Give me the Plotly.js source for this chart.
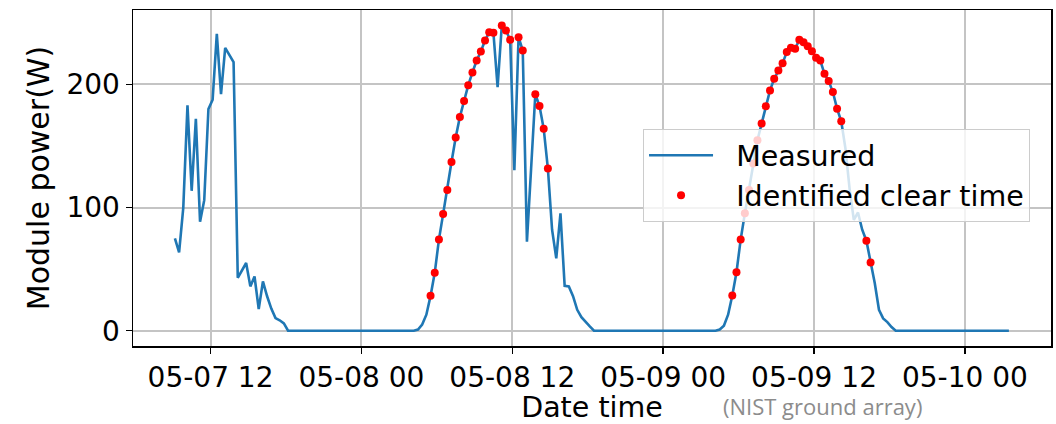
<!DOCTYPE html>
<html>
<head>
<meta charset="utf-8">
<script src="https://cdn.plot.ly/plotly-3.0.1.min.js"></script>
<style>html,body{margin:0;padding:0;background:#fff;}#chart{width:1056px;height:424px;}</style>
</head>
<body>
<div id="chart"></div>
<script>
// Sampling of the measured series (start time and step between samples)
const startTime = '2016-05-07T09:10:00';
const stepMinutes = 20;

// Measured module power (W), one value per 20-minute sample
const measuredPower = [
  75, 63.7, 100, 183, 113.6, 172, 88.5, 106, 180, 187.6,
  241, 192, 229.7, 224, 218, 43, 49, 55, 36, 44,
  17.5, 40, 28, 18, 10.3, 8.5, 6, 0, 0, 0,
  0, 0, 0, 0, 0, 0, 0, 0, 0, 0,
  0, 0, 0, 0, 0, 0, 0, 0, 0, 0,
  0, 0, 0, 0, 0, 0, 0, 0, 1, 5,
  13, 28.3, 47, 74, 94.7, 114.2, 137, 156.8, 173.6, 186.5,
  199.4, 209.7, 219.4, 226.7, 235.6, 242.4, 242, 197.8, 247.8, 243.7,
  236.2, 130.4, 238.3, 227.5, 72.3, 132, 192, 182.4, 164, 131.7,
  82, 58.8, 95.3, 36.4, 36, 28, 17, 11, 7, 3.5,
  0, 0, 0, 0, 0, 0, 0, 0, 0, 0,
  0, 0, 0, 0, 0, 0, 0, 0, 0, 0,
  0, 0, 0, 0, 0, 0, 0, 0, 0, 0,
  1, 4, 13, 28.5, 47.5, 74, 95.3, 114.2, 135.8, 154.7,
  168.2, 182.2, 195.1, 204.6, 211.3, 217.2, 226.2, 229.7, 228.9, 236.2,
  234.3, 231, 227, 221.6, 219.4, 208.6, 202.7, 193.8, 180.3, 170,
  148, 115, 90, 96, 82, 73.1, 55.3, 38.6, 17, 10,
  7, 3, 0, 0, 0, 0, 0, 0, 0, 0,
  0, 0, 0, 0, 0, 0, 0, 0, 0, 0,
  0, 0, 0, 0, 0, 0, 0, 0, 0, 0
];

// Sample indices flagged as clear-sky times
const clearIdx = [
  61, 62, 63, 64, 65, 66, 67, 68, 69, 70, 71, 72, 73, 74, 75, 76,
  78, 79, 80, 82, 83, 86, 87, 88, 89,
  133, 134, 135, 136, 137, 138, 139, 140, 141, 142, 143, 144, 145, 146,
  147, 148, 149, 150, 151, 152, 153, 154, 155, 156, 157, 158, 159, 165, 166
];

const seriesNames = ['Measured', 'Identified clear time'];
const xTickVals = ['2016-05-07 12:00', '2016-05-08 00:00', '2016-05-08 12:00',
                   '2016-05-09 00:00', '2016-05-09 12:00', '2016-05-10 00:00'];
const xTickText = ['05-07 12', '05-08 00', '05-08 12', '05-09 00', '05-09 12', '05-10 00'];
const yTickVals = [0, 100, 200];

function fmt(d) {
  const p = n => String(n).padStart(2, '0');
  return d.getFullYear() + '-' + p(d.getMonth() + 1) + '-' + p(d.getDate()) + ' ' +
         p(d.getHours()) + ':' + p(d.getMinutes()) + ':00';
}
const t0 = new Date(startTime);
const times = measuredPower.map((_, i) => fmt(new Date(t0.getTime() + i * stepMinutes * 60000)));

const pad = '\u00a0\u00a0';
const measured = {
  x: times, y: measuredPower, type: 'scatter', mode: 'lines', name: pad + seriesNames[0],
  line: {color: '#1f77b4', width: 2.6}
};
const clear = {
  x: clearIdx.map(i => times[i]), y: clearIdx.map(i => measuredPower[i]),
  type: 'scatter', mode: 'markers', name: pad + seriesNames[1],
  marker: {color: '#ff0000', size: 8}
};

const font = {family: 'DejaVu Sans', size: 28, color: '#000'};
const layout = {
  width: 1056, height: 424,
  margin: {l: 133, r: 5, t: 10, b: 78},
  paper_bgcolor: '#fff', plot_bgcolor: '#fff',
  font: font,
  showlegend: true,
  legend: {
    x: 0.5556, y: 0.645, xanchor: 'left', yanchor: 'top',
    bgcolor: 'rgba(255,255,255,0.8)', bordercolor: '#cccccc', borderwidth: 1,
    font: {family: 'DejaVu Sans', size: 28.5, color: '#000'}, itemwidth: 64
  },
  xaxis: {
    type: 'date',
    range: ['2016-05-07 05:50', '2016-05-10 06:51'],
    tickvals: xTickVals, ticktext: xTickText,
    ticks: 'outside', ticklen: 6, tickwidth: 1.5, tickcolor: '#000',
    showgrid: true, gridcolor: '#c4c4c4', gridwidth: 2,
    showline: true, linecolor: '#000', linewidth: 1.5, mirror: true,
    zeroline: false,
    tickfont: font,
    title: {text: 'Date time', font: {family: 'DejaVu Sans', size: 28.5, color: '#000'}, standoff: 5}
  },
  yaxis: {
    range: [-12.4, 260.4],
    tickvals: yTickVals,
    ticks: 'outside', ticklen: 6, tickwidth: 1.5, tickcolor: '#000',
    showgrid: true, gridcolor: '#c4c4c4', gridwidth: 2,
    showline: true, linecolor: '#000', linewidth: 1.5, mirror: true,
    zeroline: false,
    tickfont: font,
    title: {text: 'Module power(W)', font: {family: 'DejaVu Sans', size: 30, color: '#000'}, standoff: 8}
  },
  annotations: [{
    text: '(NIST ground array)', xref: 'paper', yref: 'paper',
    x: 0.7516, y: -0.18, xanchor: 'center', yanchor: 'middle', showarrow: false,
    borderpad: 0,
    font: {family: 'Open Sans', size: 22, color: '#8c8c8c'}
  }]
};

Plotly.newPlot('chart', [measured, clear], layout, {displayModeBar: false, staticPlot: true});
</script>
</body>
</html>
